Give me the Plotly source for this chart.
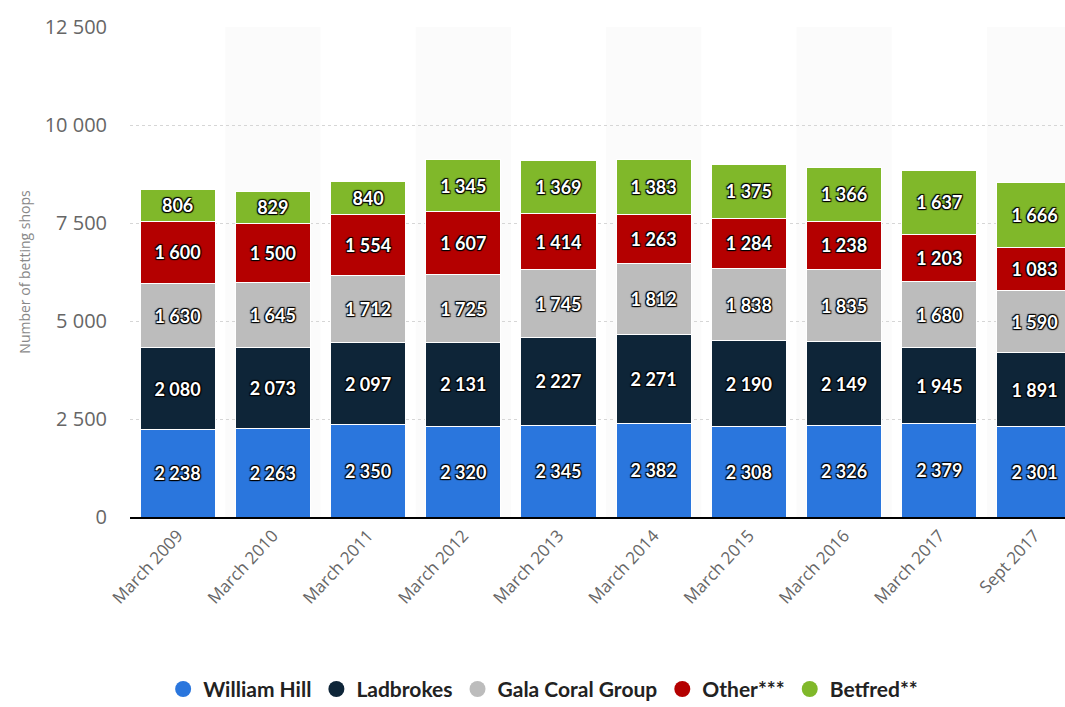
import plotly.graph_objects as go

categories = ["March 2009", "March 2010", "March 2011", "March 2012", "March 2013",
              "March 2014", "March 2015", "March 2016", "March 2017", "Sept 2017"]
william_hill = [2238, 2263, 2350, 2320, 2345, 2382, 2308, 2326, 2379, 2301]
ladbrokes = [2080, 2073, 2097, 2131, 2227, 2271, 2190, 2149, 1945, 1891]
gala_coral = [1630, 1645, 1712, 1725, 1745, 1812, 1838, 1835, 1680, 1590]
other = [1600, 1500, 1554, 1607, 1414, 1263, 1284, 1238, 1203, 1083]
betfred = [806, 829, 840, 1345, 1369, 1383, 1375, 1366, 1637, 1666]

series = [
    ("William Hill", william_hill, "#2a76dd"),
    ("Ladbrokes", ladbrokes, "#0e2538"),
    ("Gala Coral Group", gala_coral, "#bcbcbc"),
    ("Other***", other, "#b40000"),
    ("Betfred**", betfred, "#80b82a"),
]

x_idx = list(range(len(categories)))
fig = go.Figure()

for name, vals, color in series:
    fig.add_trace(go.Bar(
        x=x_idx, y=vals, name=name, marker=dict(color=color, line=dict(color="white", width=1)),
        texttemplate="%{y:,d}", textposition="inside", insidetextanchor="middle",
        textfont=dict(family="Lato", size=18, color="white", weight="bold",
                      shadow="1px 1px 1px #000, -1px -1px 1px #000, 1px -1px 1px #000, -1px 1px 1px #000"),
        constraintext="none", showlegend=False, hoverinfo="skip",
    ))
    fig.add_trace(go.Scatter(
        x=[None], y=[None], mode="markers", name=name,
        marker=dict(color=color, size=17, symbol="circle"), showlegend=True,
    ))

shapes = []
for i in x_idx:
    if i % 2 == 1:
        shapes.append(dict(type="rect", xref="x", yref="paper", x0=i - 0.5, x1=i + 0.5,
                           y0=0, y1=1, fillcolor="#fbfbfb", line=dict(width=0), layer="below"))

fig.update_layout(
    width=1065, height=707,
    barmode="stack", bargap=0.21,
    plot_bgcolor="white", paper_bgcolor="white",
    separators=". ",
    margin=dict(l=130, r=0, t=27, b=190),
    shapes=shapes,
    font=dict(family="Open Sans", color="#666666"),
    xaxis=dict(
        tickmode="array", tickvals=x_idx, ticktext=categories,
        range=[-0.5, 9.32], tickangle=-47, showgrid=False, zeroline=False,
        showline=True, linecolor="#000000", linewidth=2,
        tickfont=dict(size=17, color="#666666"),
    ),
    yaxis=dict(
        range=[0, 12500], dtick=2500, tickformat=",d",
        showgrid=True, gridcolor="#d6d6d6", griddash="dot", gridwidth=1,
        zeroline=False, tickfont=dict(size=20, color="#666666"),
        title=dict(text="Number of betting shops", font=dict(size=14, color="#888888"), standoff=10),
        ticks="", ticklabelstandoff=22,
    ),
    legend=dict(
        orientation="h", xref="container", x=0.51, xanchor="center",
        yref="container", y=0.025, yanchor="middle",
        font=dict(family="Lato", size=21, color="#222222", weight="bold"),
        itemwidth=30, traceorder="normal",
    ),
)

fig.write_html("out.html")
